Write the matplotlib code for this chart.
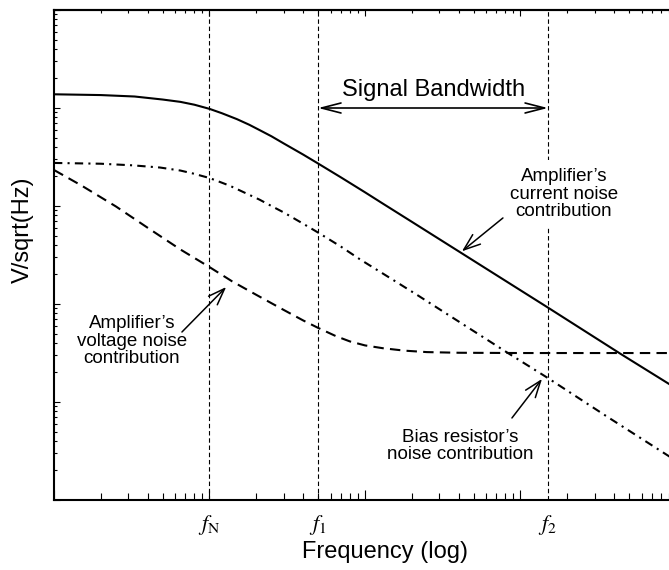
import numpy as np
import matplotlib.pyplot as plt
import matplotlib.transforms as mtransforms
from matplotlib.ticker import LogLocator, NullFormatter

plt.rcParams['font.family'] = ['Liberation Sans', 'DejaVu Sans']
plt.rcParams['mathtext.fontset'] = 'stix'

# noise spectral densities (arbitrary V/sqrt(Hz) units) against frequency in Hz
freq_current = [1, 2, 3.3, 5, 6.5, 8, 10, 12, 15, 18, 21, 25, 30, 40, 50, 70, 100, 130,
                200, 400, 1500, 4400, 10000]
v_current = [13800, 13550, 13100, 12200, 11550, 10800, 9800, 8850, 7700, 6750, 5950, 5150,
             4350, 3350, 2710, 1960, 1380, 1060, 690, 345, 92, 31, 13.8]

freq_bias = [1, 2, 3.2, 4.8, 6.5, 7.8, 10, 12, 13.5, 16, 21, 25, 30, 40, 50, 70, 93, 130,
             216, 408, 820, 1480, 3600, 9000, 10000]
v_bias = [2750, 2700, 2600, 2470, 2300, 2150, 1930, 1730, 1610, 1420, 1160, 1000, 860, 660,
          535, 385, 285, 205, 124, 65, 32, 17.8, 7.1, 2.8, 2.5]

freq_volt = [1, 1.5, 2.5, 4, 6.5, 10, 14, 20, 30, 40, 50, 65, 80, 100, 130, 180, 250, 400,
             1000, 10000]
v_volt = [2330, 1620, 990, 600, 360, 238, 170, 124, 87, 68, 57, 47, 41.5, 37.8, 35.4, 33.4,
          32.3, 31.8, 31.6, 31.6]

marker_freqs = [10, 50, 1500]
marker_labels = [r'$f_{\mathrm{N}}$', r'$f_{1}$', r'$f_{2}$']

fig = plt.figure(figsize=(6.69, 5.70), dpi=100)
ax = fig.add_axes([54/669, 70/570, 622/669, 490/570])
ax.set_xscale('log')
ax.set_yscale('log')
ax.set_xlim(1, 1e4)
ax.set_ylim(1, 1e5)

ax.plot(freq_current, v_current, color='k', lw=1.5)
ax.plot(freq_bias, v_bias, color='k', lw=1.5, dashes=(4, 2.5, 1, 2.5))
ax.plot(freq_volt, v_volt, color='k', lw=1.5, dashes=(5, 3))

for f in marker_freqs:
    ax.axvline(f, color='k', lw=0.8, dashes=(4, 2.5), zorder=1)

for s in ax.spines.values():
    s.set_linewidth(1.5)
ax.spines['right'].set_visible(False)

ax.xaxis.set_minor_locator(LogLocator(base=10, subs=np.arange(2, 10), numticks=20))
ax.yaxis.set_minor_locator(LogLocator(base=10, subs=np.arange(2, 10), numticks=20))
ax.xaxis.set_major_formatter(NullFormatter())
ax.xaxis.set_minor_formatter(NullFormatter())
ax.yaxis.set_major_formatter(NullFormatter())
ax.yaxis.set_minor_formatter(NullFormatter())
ax.tick_params(axis='x', which='major', direction='in', length=7.5, width=0.8, top=False)
ax.tick_params(axis='x', which='minor', direction='in', length=5, width=0.8, top=False)
ax.tick_params(axis='y', which='major', direction='in', length=4.5, width=0.8, right=False)
ax.tick_params(axis='y', which='minor', direction='in', length=2.5, width=0.8, right=False)

# shorter ticks along the top edge
top = ax.secondary_xaxis('top')
top.xaxis.set_minor_locator(LogLocator(base=10, subs=np.arange(2, 10), numticks=20))
top.xaxis.set_major_formatter(NullFormatter())
top.xaxis.set_minor_formatter(NullFormatter())
top.tick_params(which='major', direction='in', length=4.5, width=0.8)
top.tick_params(which='minor', direction='in', length=2.5, width=0.8)
top.spines['top'].set_linewidth(1.5)

trans = mtransforms.blended_transform_factory(ax.transData, ax.transAxes)
for f, lab in zip(marker_freqs, marker_labels):
    ax.text(f, -0.051, lab, transform=trans, ha='center', va='center', fontsize=16)

fig.text(385/669, 12/570, 'Frequency (log)', ha='center', va='baseline', fontsize=17)
fig.text(23/669, 1 - 230/570, 'V/sqrt(Hz)', rotation=90, ha='center', va='center', fontsize=17)

# signal bandwidth between f1 and f2
ax.annotate('', xy=(50, 1e4), xytext=(1500, 1e4),
            arrowprops=dict(arrowstyle='<->,head_length=0.7,head_width=0.18', color='k',
                            lw=1.2, shrinkA=0, shrinkB=0, mutation_scale=20))
ax.text(278, 13240, 'Signal Bandwidth', ha='center', va='baseline', fontsize=17)

arrow = dict(arrowstyle='->,head_length=0.6,head_width=0.22', color='k', lw=1.1,
             shrinkA=0, shrinkB=0, mutation_scale=20)

ax.text(1905, 1325, "Amplifier\u2019s\ncurrent noise\ncontribution", ha='center', va='center',
        fontsize=13.5, linespacing=1.05, zorder=3,
        bbox=dict(fc='white', ec='none', boxstyle='square,pad=0.4'))
ax.annotate('', xy=(420, 345), xytext=(771, 755), arrowprops=arrow)

ax.text(3.17, 41.9, "Amplifier\u2019s\nvoltage noise\ncontribution", ha='center', va='center',
        fontsize=13.5, linespacing=1.05)
ax.annotate('', xy=(12.8, 149), xytext=(6.65, 51.8), arrowprops=arrow)

ax.text(408, 3.56, "Bias resistor\u2019s\nnoise contribution", ha='center', va='center',
        fontsize=13.5, linespacing=1.05)
ax.annotate('', xy=(1375, 17.2), xytext=(881, 6.87), arrowprops=arrow)

fig.savefig('out.png', dpi=100)
